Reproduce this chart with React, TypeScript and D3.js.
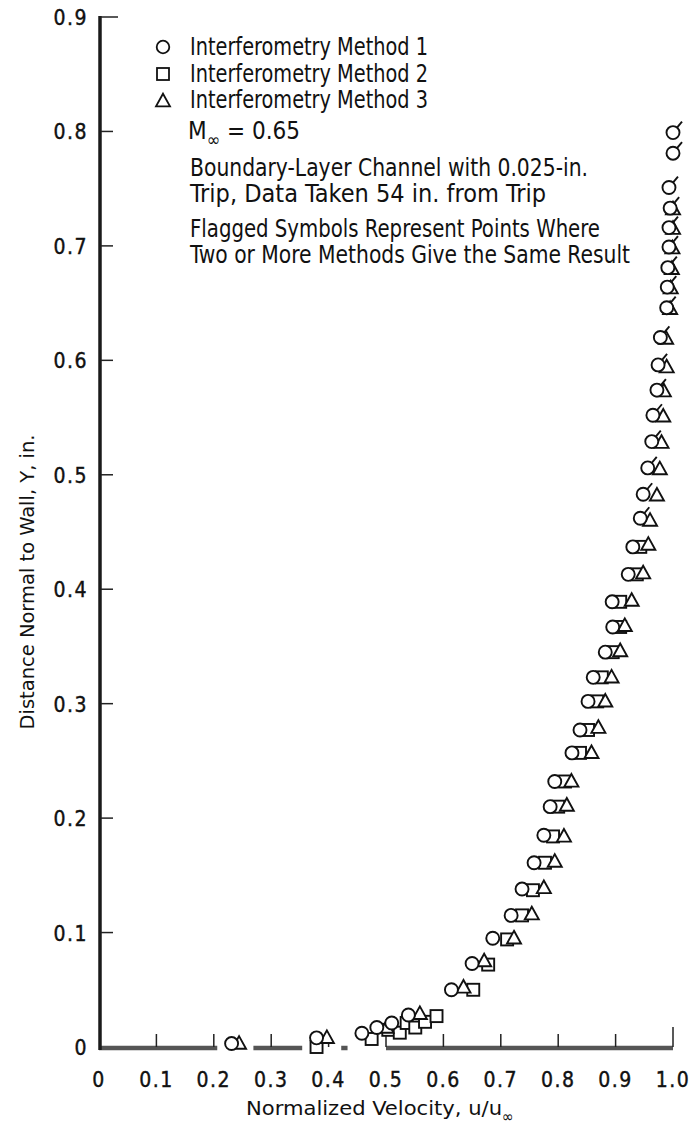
import React, { useRef, useEffect } from 'react';
import * as d3 from 'd3';

// Method 1 (circles); flag = two or more methods agree
const method1 = [
  { u: 0.231, y: 0.003 }, { u: 0.379, y: 0.008 }, { u: 0.458, y: 0.012 },
  { u: 0.484, y: 0.017 }, { u: 0.510, y: 0.021 }, { u: 0.539, y: 0.028 },
  { u: 0.614, y: 0.050 }, { u: 0.650, y: 0.073 }, { u: 0.686, y: 0.095 },
  { u: 0.718, y: 0.115 }, { u: 0.737, y: 0.138 }, { u: 0.758, y: 0.161 },
  { u: 0.775, y: 0.185 }, { u: 0.786, y: 0.210 }, { u: 0.794, y: 0.232 },
  { u: 0.824, y: 0.257 }, { u: 0.838, y: 0.277 }, { u: 0.852, y: 0.302 },
  { u: 0.861, y: 0.323 }, { u: 0.882, y: 0.345 }, { u: 0.895, y: 0.367 },
  { u: 0.894, y: 0.389 }, { u: 0.922, y: 0.413 }, { u: 0.930, y: 0.437 },
  { u: 0.943, y: 0.462, flag: true }, { u: 0.948, y: 0.483, flag: true },
  { u: 0.956, y: 0.506, flag: true }, { u: 0.963, y: 0.529, flag: true },
  { u: 0.965, y: 0.552, flag: true }, { u: 0.972, y: 0.574, flag: true },
  { u: 0.974, y: 0.596, flag: true }, { u: 0.978, y: 0.620, flag: true },
  { u: 0.989, y: 0.646, flag: true }, { u: 0.990, y: 0.664, flag: true },
  { u: 0.991, y: 0.681, flag: true }, { u: 0.993, y: 0.699, flag: true },
  { u: 0.993, y: 0.716, flag: true }, { u: 0.995, y: 0.733, flag: true },
  { u: 0.993, y: 0.751, flag: true }, { u: 1.0, y: 0.781, flag: true },
  { u: 1.0, y: 0.799, flag: true },
];

// Method 2 (squares)
const method2 = [
  { u: 0.379, y: 0.000 }, { u: 0.475, y: 0.007 }, { u: 0.504, y: 0.015 },
  { u: 0.524, y: 0.0125 }, { u: 0.536, y: 0.021 }, { u: 0.551, y: 0.017 },
  { u: 0.568, y: 0.022 }, { u: 0.588, y: 0.027 }, { u: 0.652, y: 0.050 },
  { u: 0.678, y: 0.072 }, { u: 0.711, y: 0.094 }, { u: 0.737, y: 0.115 },
  { u: 0.756, y: 0.137 }, { u: 0.777, y: 0.161 }, { u: 0.791, y: 0.184 },
  { u: 0.800, y: 0.210 }, { u: 0.812, y: 0.232 }, { u: 0.838, y: 0.257 },
  { u: 0.852, y: 0.277 }, { u: 0.868, y: 0.302 }, { u: 0.876, y: 0.323 },
  { u: 0.895, y: 0.345 }, { u: 0.908, y: 0.367 }, { u: 0.908, y: 0.389 },
  { u: 0.937, y: 0.413 }, { u: 0.943, y: 0.437 },
];

// Method 3 (triangles)
const method3 = [
  { u: 0.244, y: 0.004 }, { u: 0.397, y: 0.009 }, { u: 0.501, y: 0.018 },
  { u: 0.559, y: 0.030 }, { u: 0.635, y: 0.053 }, { u: 0.671, y: 0.076 },
  { u: 0.723, y: 0.096 }, { u: 0.754, y: 0.117 }, { u: 0.775, y: 0.140 },
  { u: 0.794, y: 0.163 }, { u: 0.810, y: 0.185 }, { u: 0.815, y: 0.212 },
  { u: 0.823, y: 0.233 }, { u: 0.858, y: 0.258 }, { u: 0.870, y: 0.280 },
  { u: 0.882, y: 0.303 }, { u: 0.893, y: 0.324 }, { u: 0.908, y: 0.347 },
  { u: 0.916, y: 0.369 }, { u: 0.928, y: 0.391 }, { u: 0.948, y: 0.415 },
  { u: 0.957, y: 0.440 }, { u: 0.960, y: 0.461 }, { u: 0.972, y: 0.483 },
  { u: 0.977, y: 0.506 }, { u: 0.980, y: 0.529 }, { u: 0.983, y: 0.552 },
  { u: 0.984, y: 0.574 }, { u: 0.989, y: 0.595 }, { u: 0.988, y: 0.620 },
  { u: 0.995, y: 0.646 }, { u: 0.996, y: 0.664 }, { u: 0.998, y: 0.681 },
  { u: 0.999, y: 0.699 }, { u: 1.0, y: 0.716 }, { u: 1.0, y: 0.733 },
];

const xTicks = [0, 0.1, 0.2, 0.3, 0.4, 0.5, 0.6, 0.7, 0.8, 0.9, 1.0];
const xTickLabels = ['0', '0.1', '0.2', '0.3', '0.4', '0.5', '0.6', '0.7', '0.8', '0.9', '1.0'];
const yTicks = [0, 0.1, 0.2, 0.3, 0.4, 0.5, 0.6, 0.7, 0.8, 0.9];
const yTickLabels = ['0', '0.1', '0.2', '0.3', '0.4', '0.5', '0.6', '0.7', '0.8', '0.9'];

const legendLabels = ['Interferometry Method 1', 'Interferometry Method 2', 'Interferometry Method 3'];
const noteLines = [
  'Boundary-Layer Channel with 0.025-in.',
  'Trip, Data Taken 54 in. from Trip',
];
const flagLines = [
  'Flagged Symbols Represent Points Where',
  'Two or More Methods Give the Same Result',
];

const FONT = "'DejaVu Sans Condensed', 'Liberation Sans Narrow', sans-serif";

function App() {
  const ref = useRef(null);

  useEffect(() => {
    const svg = d3.select(ref.current);
    svg.selectAll('*').remove();

    const x = d3.scaleLinear().domain([0, 1]).range([99, 673]);
    const y = d3.scaleLinear().domain([0, 0.9]).range([1047, 17]);

    const sq = (g, cx, cy, s) =>
      g.append('rect').attr('x', cx - s / 2).attr('y', cy - s / 2)
        .attr('width', s).attr('height', s);
    const triPath = (cx, cy, s) => {
      const h = s * 0.9;
      return `M${cx},${cy - h / 2}L${cx + s / 2},${cy + h / 2}L${cx - s / 2},${cy + h / 2}Z`;
    };

    // axes
    const axis = svg.append('g').attr('stroke', '#222');

    // bottom axis, broken around the symbols sitting on the wall
    const nearWall = [...method1, ...method2, ...method3]
      .filter(d => d.y < 0.0125)
      .map(d => [d.u - 0.025, d.u + 0.025])
      .sort((a, b) => a[0] - b[0]);
    const gaps = [];
    nearWall.forEach(g => {
      const last = gaps[gaps.length - 1];
      if (last && g[0] <= last[1]) last[1] = Math.max(last[1], g[1]);
      else gaps.push([...g]);
    });
    let start = 0;
    const segs = [];
    gaps.forEach(g => { segs.push([start, g[0]]); start = g[1]; });
    segs.push([start, 1]);
    axis.selectAll('line.xseg').data(segs).enter().append('line')
      .attr('x1', d => x(d[0])).attr('x2', d => x(d[1]))
      .attr('y1', y(0) + 1).attr('y2', y(0) + 1)
      .attr('stroke', '#555').attr('stroke-width', 4.5);

    axis.append('line')
      .attr('x1', x(0) + 1).attr('x2', x(0) + 1)
      .attr('y1', y(0.9) - 1).attr('y2', y(0) + 3)
      .attr('stroke', '#1a1a1a').attr('stroke-width', 3.5);

    axis.selectAll('line.ytick').data(yTicks.slice(1)).enter().append('line')
      .attr('x1', x(0) + 2).attr('x2', d => x(0) + (d === 0.9 ? 19 : 14))
      .attr('y1', d => y(d)).attr('y2', d => y(d))
      .attr('stroke-width', 1.5);

    axis.selectAll('line.xtick').data(xTicks.slice(1)).enter().append('line')
      .attr('x1', d => x(d)).attr('x2', d => x(d))
      .attr('y1', y(0)).attr('y2', d => y(0) - (d === 1 ? 20 : 13))
      .attr('stroke-width', 1.5);

    // tick labels
    svg.append('g').selectAll('text').data(xTicks).enter().append('text')
      .attr('x', d => x(d)).attr('y', 1087)
      .attr('text-anchor', 'middle')
      .attr('font-size', 21).attr('letter-spacing', 1.5)
      .attr('font-family', FONT).attr('fill', '#111')
      .attr('stroke', '#111').attr('stroke-width', 0.4)
      .text((d, i) => xTickLabels[i]);

    svg.append('g').selectAll('text').data(yTicks).enter().append('text')
      .attr('x', 88).attr('y', d => y(d) + 8)
      .attr('text-anchor', 'end')
      .attr('font-size', 21).attr('letter-spacing', 1.5)
      .attr('font-family', FONT).attr('fill', '#111')
      .attr('stroke', '#111').attr('stroke-width', 0.4)
      .text((d, i) => yTickLabels[i]);

    // axis titles
    const xt = svg.append('text')
      .attr('x', 246).attr('y', 1115)
      .attr('font-size', 20).attr('font-family', FONT).attr('fill', '#111');
    xt.append('tspan').attr('textLength', 256).attr('lengthAdjust', 'spacingAndGlyphs')
      .text('Normalized Velocity,  u/u');
    xt.append('tspan').attr('dy', 7).attr('font-size', 16).text('\u221E');

    svg.append('text')
      .attr('transform', 'translate(34,582) rotate(-90)')
      .attr('text-anchor', 'middle')
      .attr('font-size', 20).attr('font-family', FONT).attr('fill', '#111')
      .attr('textLength', 295).attr('lengthAdjust', 'spacingAndGlyphs')
      .text('Distance Normal to Wall,  Y, in.');

    // data symbols
    const marks = svg.append('g')
      .attr('fill', 'white').attr('stroke', '#111').attr('stroke-width', 1.9);

    method2.forEach(d => sq(marks, x(d.u), y(d.y), 12));
    marks.selectAll('path.tri').data(method3).enter().append('path')
      .attr('d', d => triPath(x(d.u), y(d.y), 14));
    marks.selectAll('circle').data(method1).enter().append('circle')
      .attr('cx', d => x(d.u)).attr('cy', d => y(d.y)).attr('r', 6.5);
    marks.selectAll('line.flag').data(method1.filter(d => d.flag)).enter().append('line')
      .attr('x1', d => x(d.u) + 4).attr('y1', d => y(d.y) - 5)
      .attr('x2', d => x(d.u) + 9).attr('y2', d => y(d.y) - 11);

    // legend
    const lg = svg.append('g').attr('font-family', FONT).attr('font-size', 24).attr('fill', '#111');
    const sym = svg.append('g').attr('fill', 'white').attr('stroke', '#111').attr('stroke-width', 1.8);
    sym.append('circle').attr('cx', 163).attr('cy', 47).attr('r', 6.3);
    sq(sym, 163, 74, 12);
    sym.append('path').attr('d', triPath(163, 100, 14));
    legendLabels.forEach((t, i) => {
      lg.append('text').attr('x', 190).attr('y', 55 + i * 26.5)
        .attr('textLength', 238).attr('lengthAdjust', 'spacingAndGlyphs').text(t);
    });
    const mt = lg.append('text').attr('x', 188).attr('y', 139);
    mt.append('tspan').text('M');
    mt.append('tspan').attr('dy', 7).attr('font-size', 18).text('\u221E');
    mt.append('tspan').attr('dy', -7).text(' = 0.65');
    const noteLen = [398, 356];
    noteLines.forEach((t, i) => {
      lg.append('text').attr('x', 190).attr('y', 176 + i * 26)
        .attr('textLength', noteLen[i]).attr('lengthAdjust', 'spacingAndGlyphs').text(t);
    });
    const flagLen = [410, 440];
    flagLines.forEach((t, i) => {
      lg.append('text').attr('x', 190).attr('y', 237 + i * 26)
        .attr('textLength', flagLen[i]).attr('lengthAdjust', 'spacingAndGlyphs').text(t);
    });
  }, []);

  return (
    <svg ref={ref} width={694} height={1132}
      style={{ position: 'absolute', left: 0, top: 0, background: 'white' }} />
  );
}

export default App;
